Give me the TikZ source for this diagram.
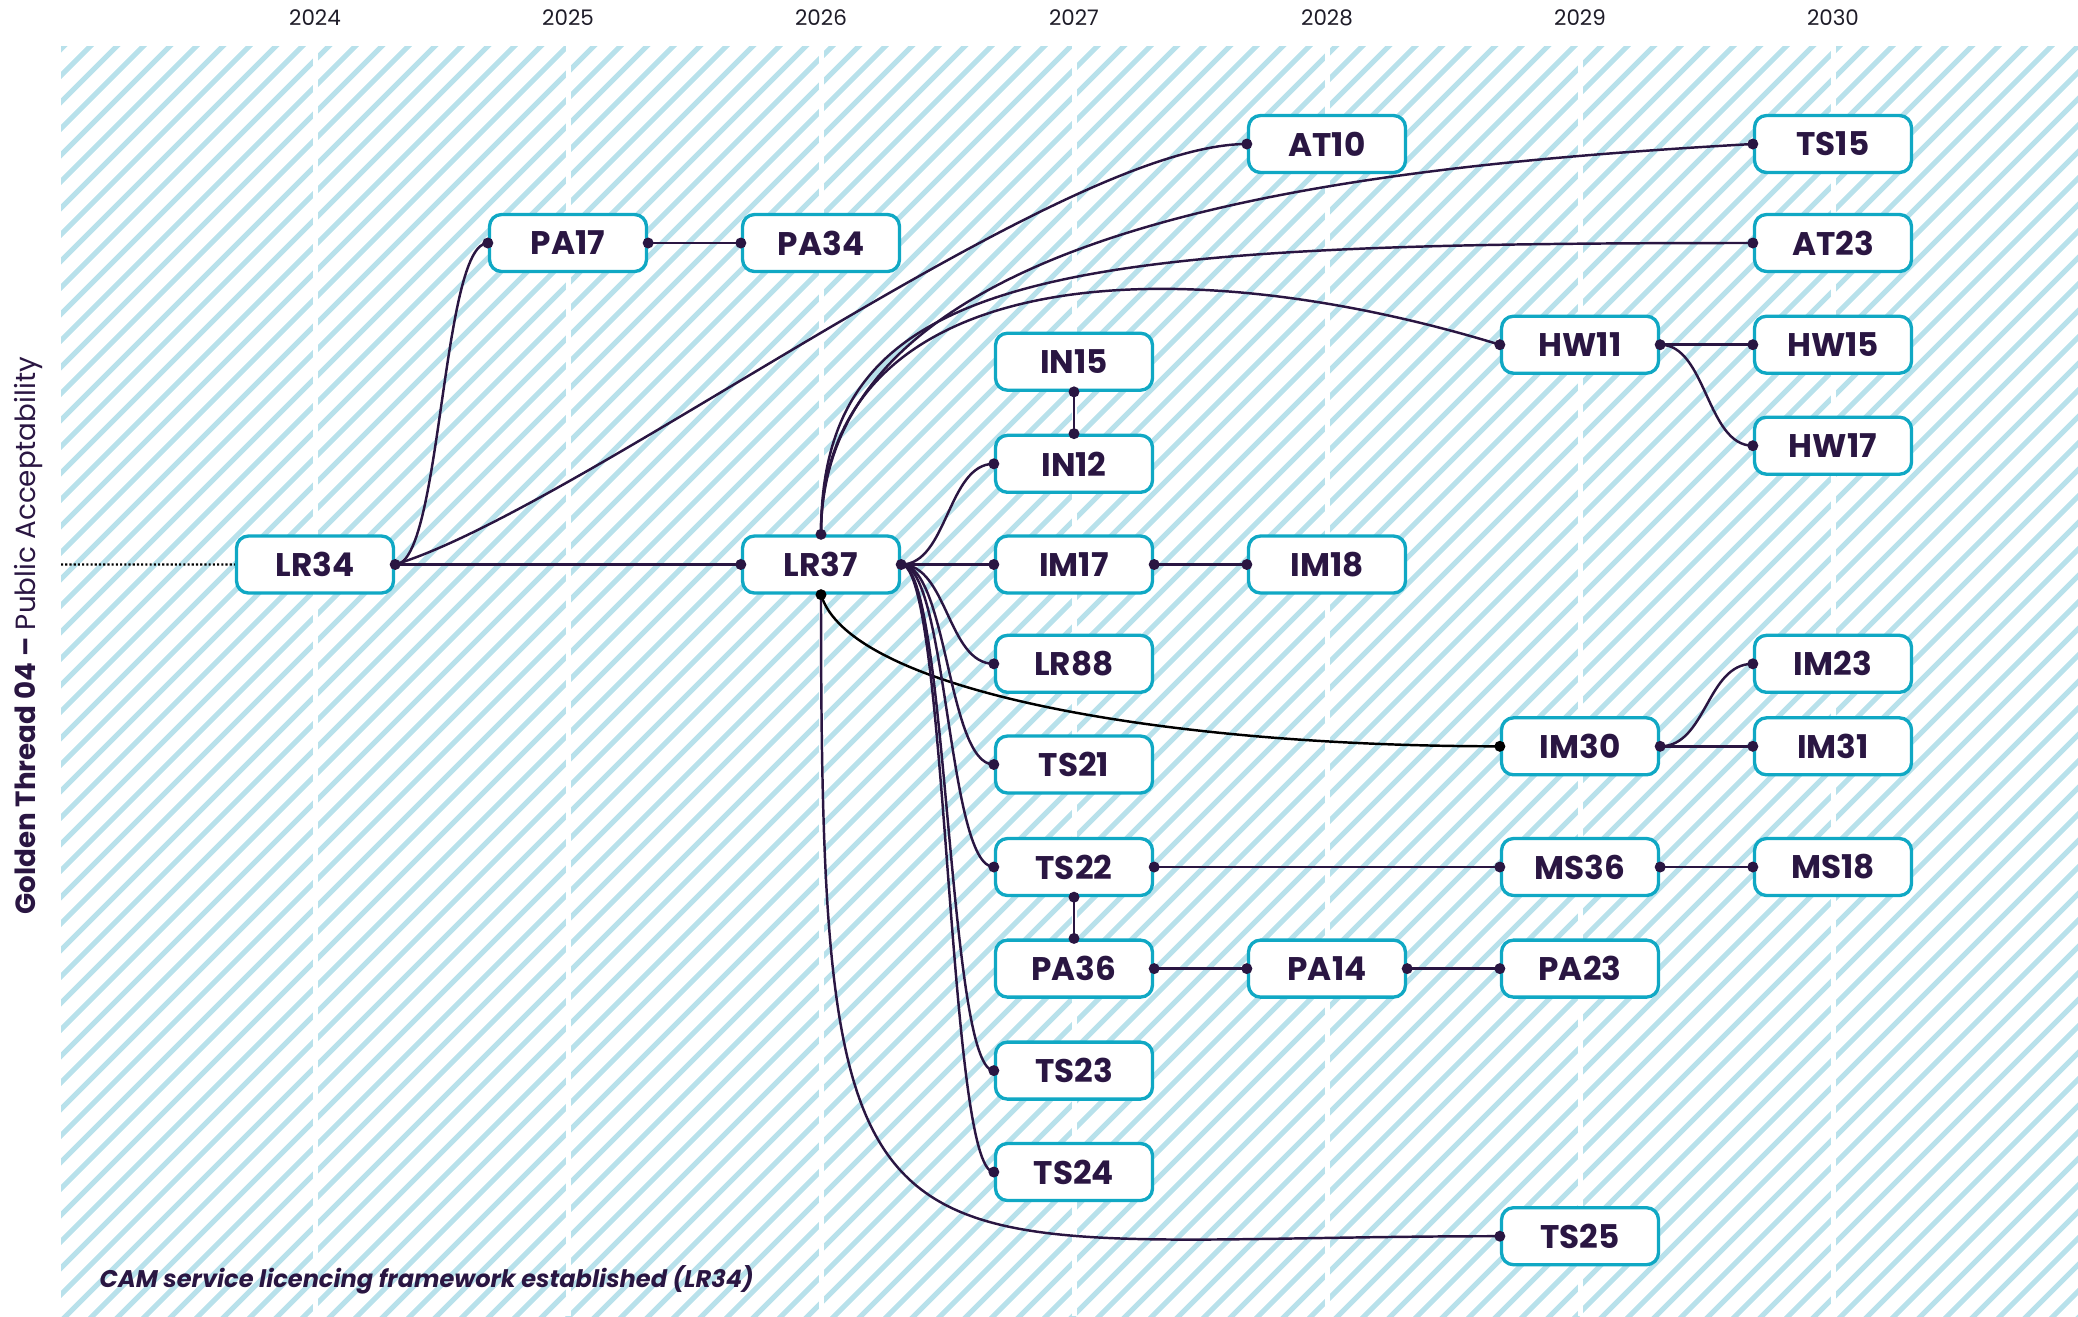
\documentclass[tikz,border=0pt]{standalone}
\usepackage{fontspec}
\setmainfont{Poppins}
\usepackage{tikz}
\usetikzlibrary{calc}
\pgfdeclarelayer{back}
\pgfdeclarelayer{bg}
\pgfsetlayers{back,bg,main}
\definecolor{ink}{RGB}{42,22,66}
\definecolor{boxline}{RGB}{16,168,196}
\definecolor{stripe}{RGB}{184,225,235}
\definecolor{yeartext}{RGB}{30,28,40}

\begin{document}
\begin{tikzpicture}[
        box/.style={draw=boxline, line width=0.95pt, rounded corners=0.12cm, fill=white, text=ink,
                inner sep=0pt, minimum width=1.57cm, minimum height=0.57cm,
                font=\fontsize{9.3}{10}\selectfont\bfseries},
        conn/.style={draw=ink, line width=0.7pt},
        link/.style={conn, to path={let \p1=(\tikztostart), \p2=(\tikztotarget) in
                .. controls ({0.5*\x1+0.5*\x2},\y1) and ({0.5*\x1+0.5*\x2},\y2) .. (\tikztotarget)}},
        hatchline/.style={stripe, line width=0.052cm},
        year/.style={text=yeartext, font=\fontsize{6.1}{7}\selectfont}]
        \useasboundingbox (0,0) rectangle (20.78,-13.16);
        \begin{pgfonlayer}{back}
                \begin{scope}
                        \clip (0.61,-0.46) rectangle (20.78,-13.16);
                        \foreach \i in {0,...,125}
                                \draw[hatchline] ({\i*0.265-12.2},-13.3) -- ++(13,13);
                        \foreach \x in {3.15,5.68,8.21,10.74,13.27,15.80,18.33}
                                \draw[white, line width=0.05cm] (\x,-0.46) -- (\x,-13.16);
                \end{scope}
        \end{pgfonlayer}
        \foreach \x/\yr in {3.15/2024,5.68/2025,8.21/2026,10.74/2027,13.27/2028,15.80/2029,18.33/2030}
                \node (y\yr) [year] at (\x,-0.175) {\yr};
        \node (thread) [rotate=90, anchor=base, inner sep=0pt, text=ink, font=\fontsize{7.9}{9}\selectfont] at (0.35,-6.36)
                {\textbf{Golden Thread 04 –} Public Acceptability};
        \node (note) [anchor=base west, inner sep=0pt, text=ink, font=\fontsize{6.85}{8}\selectfont\bfseries\itshape] at (0.99,-12.87)
                {CAM service licencing framework established (LR34)};
        \coordinate (lead) at (0.61,-5.645);
        \node (lr34) [box] at (3.150000cm, -5.645000cm) {LR34};
        \node (pa17) [box] at (5.680000cm, -2.430000cm) {PA17};
        \node (pa34) [box] at (8.210000cm, -2.430000cm) {PA34};
        \node (lr37) [box] at (8.210000cm, -5.645000cm) {LR37};
        \node (at10) [box] at (13.270000cm, -1.440000cm) {AT10};
        \node (ts15) [box] at (18.330000cm, -1.440000cm) {TS15};
        \node (at23) [box] at (18.330000cm, -2.430000cm) {AT23};
        \node (hw11) [box] at (15.800000cm, -3.447000cm) {HW11};
        \node (hw15) [box] at (18.330000cm, -3.447000cm) {HW15};
        \node (hw17) [box] at (18.330000cm, -4.457000cm) {HW17};
        \node (in15) [box] at (10.740000cm, -3.617000cm) {IN15};
        \node (in12) [box] at (10.740000cm, -4.638000cm) {IN12};
        \node (im17) [box] at (10.740000cm, -5.645000cm) {IM17};
        \node (im18) [box] at (13.270000cm, -5.645000cm) {IM18};
        \node (lr88) [box] at (10.740000cm, -6.638000cm) {LR88};
        \node (im23) [box] at (18.330000cm, -6.638000cm) {IM23};
        \node (im30) [box] at (15.800000cm, -7.463000cm) {IM30};
        \node (im31) [box] at (18.330000cm, -7.463000cm) {IM31};
        \node (ts21) [box] at (10.740000cm, -7.645000cm) {TS21};
        \node (ts22) [box] at (10.740000cm, -8.670000cm) {TS22};
        \node (ms36) [box] at (15.800000cm, -8.670000cm) {MS36};
        \node (ms18) [box] at (18.330000cm, -8.670000cm) {MS18};
        \node (pa36) [box] at (10.740000cm, -9.686000cm) {PA36};
        \node (pa14) [box] at (13.270000cm, -9.686000cm) {PA14};
        \node (pa23) [box] at (15.800000cm, -9.686000cm) {PA23};
        \node (ts23) [box] at (10.740000cm, -10.706000cm) {TS23};
        \node (ts24) [box] at (10.740000cm, -11.720000cm) {TS24};
        \node (ts25) [box] at (15.800000cm, -12.362000cm) {TS25};
        \begin{pgfonlayer}{bg}
                \draw[black, line width=0.65pt, dash pattern=on 0.6pt off 0.6pt] (lead) -- (lr34.west);
                \draw[conn] (lr34.east) -- (lr37.west);
                \draw[link] (lr34.east) to (pa17.west);
                \draw[conn] (lr34.east) .. controls +(1.88,0.58) and +(-1.87,0) .. (at10.west);
                \draw[conn] (pa17.east) -- (pa34.west);
                \draw[conn] (lr37.north) .. controls +(0,3.07) and +(-4.28,-0.24) .. (ts15.west);
                \draw[conn] (lr37.north) .. controls +(0,2.68) and +(-6.93,0) .. (at23.west);
                \draw[conn] (lr37.north) .. controls +(0,2.68) and +(-3.34,1.02) .. (hw11.west);
                \draw[conn, draw=black] (lr37.south) .. controls +(0.28,-0.94) and +(-3.47,0) .. (im30.west);
                \draw[conn] (lr37.south) .. controls +(0,-7.30) and +(-6.39,0) .. (ts25.west);
                \draw[link] (lr37.east) to (in12.west);
                \draw[conn] (lr37.east) -- (im17.west);
                \draw[link] (lr37.east) to (lr88.west);
                \draw[link] (lr37.east) to (ts21.west);
                \draw[link] (lr37.east) to (ts22.west);
                \draw[link] (lr37.east) to (ts23.west);
                \draw[link] (lr37.east) to (ts24.west);
                \draw[conn] (in15.south) -- (in12.north);
                \draw[conn] (im17.east) -- (im18.west);
                \draw[conn] (hw11.east) -- (hw15.west);
                \draw[link] (hw11.east) to (hw17.west);
                \draw[link] (im30.east) to (im23.west);
                \draw[conn] (im30.east) -- (im31.west);
                \draw[conn] (ts22.east) -- (ms36.west);
                \draw[conn] (ms36.east) -- (ms18.west);
                \draw[conn] (ts22.south) -- (pa36.north);
                \draw[conn] (pa36.east) -- (pa14.west);
                \draw[conn] (pa14.east) -- (pa23.west);
        \end{pgfonlayer}
        \foreach \p in {lr34.east, pa17.west, pa17.east, pa34.west, at10.west, ts15.west, at23.west,
                hw11.west, hw11.east, hw15.west, hw17.west, in15.south, in12.north, in12.west,
                lr37.west, lr37.north, lr37.east, im17.west, im17.east, im18.west, lr88.west,
                ts21.west, ts22.west, ts22.east, ts22.south, pa36.north, pa36.east, pa14.west,
                pa14.east, pa23.west, ts23.west, ts24.west, ts25.west, im30.east, im23.west,
                im31.west, ms36.west, ms36.east, ms18.west}
                \fill[ink] (\p) circle (0.055);
        \foreach \p in {lr37.south, im30.west}
                \fill[black] (\p) circle (0.055);
\end{tikzpicture}
\end{document}
